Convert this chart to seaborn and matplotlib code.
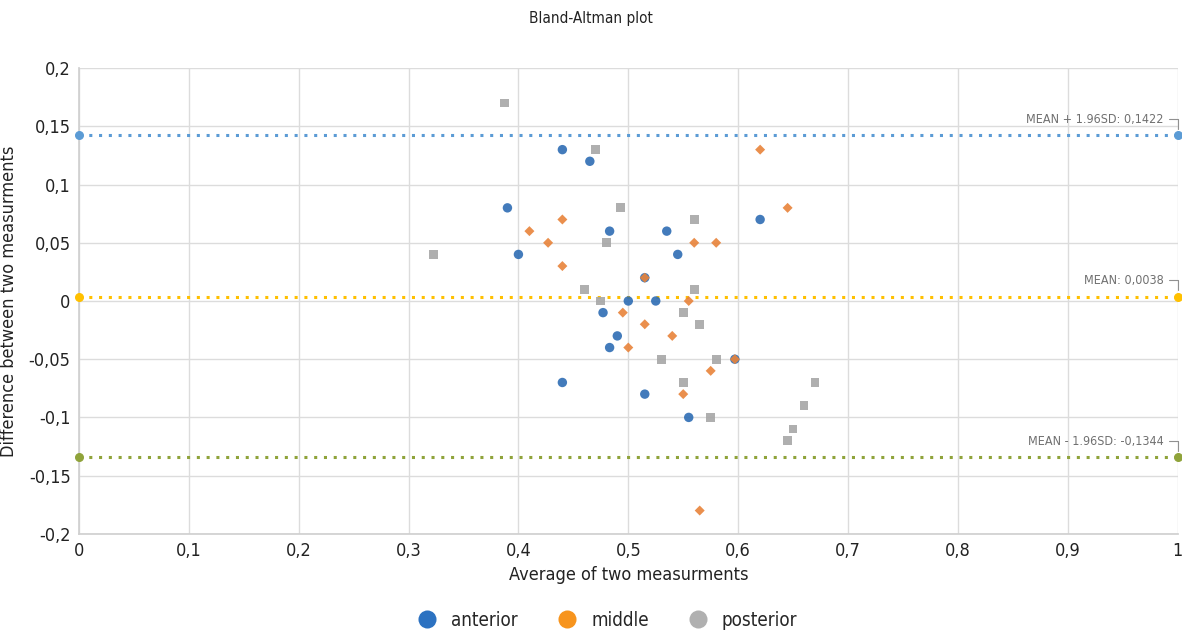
import matplotlib
matplotlib.use("Agg")
import matplotlib.pyplot as plt
from matplotlib.lines import Line2D
import seaborn as sns
import pandas as pd

# ---- data ----
anterior_x = [0.44, 0.465, 0.39, 0.40, 0.483, 0.535, 0.545, 0.62, 0.50, 0.525, 0.477, 0.49, 0.483, 0.44, 0.515, 0.555, 0.597, 0.515]
anterior_y = [0.13, 0.12, 0.08, 0.04, 0.06, 0.06, 0.04, 0.07, 0.0, 0.0, -0.01, -0.03, -0.04, -0.07, -0.08, -0.10, -0.05, 0.02]

middle_x = [0.62, 0.645, 0.41, 0.427, 0.44, 0.44, 0.56, 0.58, 0.555, 0.495, 0.515, 0.54, 0.50, 0.575, 0.55, 0.565, 0.515, 0.597]
middle_y = [0.13, 0.08, 0.06, 0.05, 0.07, 0.03, 0.05, 0.05, 0.0, -0.01, -0.02, -0.03, -0.04, -0.06, -0.08, -0.18, 0.02, -0.05]

posterior_x = [0.387, 0.47, 0.493, 0.56, 0.48, 0.323, 0.46, 0.56, 0.475, 0.55, 0.565, 0.53, 0.58, 0.55, 0.575, 0.67, 0.66, 0.65, 0.645]
posterior_y = [0.17, 0.13, 0.08, 0.07, 0.05, 0.04, 0.01, 0.01, 0.0, -0.01, -0.02, -0.05, -0.05, -0.07, -0.10, -0.07, -0.09, -0.11, -0.12]

mean_diff = 0.0038
upper_loa = 0.1422
lower_loa = -0.1344
x_ticks = [0, 0.1, 0.2, 0.3, 0.4, 0.5, 0.6, 0.7, 0.8, 0.9, 1.0]
y_ticks = [-0.2, -0.15, -0.1, -0.05, 0, 0.05, 0.1, 0.15, 0.2]
groups = ["anterior", "middle", "posterior"]

df = pd.concat([
    pd.DataFrame({"avg": anterior_x, "diff": anterior_y, "group": "anterior"}),
    pd.DataFrame({"avg": middle_x, "diff": middle_y, "group": "middle"}),
    pd.DataFrame({"avg": posterior_x, "diff": posterior_y, "group": "posterior"}),
], ignore_index=True)

sns.set_theme(style="white")
plt.rcParams['font.family'] = ['DejaVu Sans']
plt.rcParams['font.stretch'] = 'condensed'

fig = plt.figure(figsize=(11.82, 6.31), dpi=100)
ax = fig.add_axes([0.0668, 0.154, 0.9295, 0.738])

marker_colors = {"anterior": "#2E6DB4", "middle": "#E8833A", "posterior": "#A6A6A6"}
marker_shapes = {"anterior": "o", "middle": "D", "posterior": "s"}
marker_sizes = {"anterior": 46, "middle": 26, "posterior": 40}
for g in groups:
    sub = df[df["group"] == g]
    sns.scatterplot(data=sub, x="avg", y="diff", color=marker_colors[g],
                    marker=marker_shapes[g], s=marker_sizes[g], edgecolor="none",
                    alpha=0.9, ax=ax, legend=False, zorder=3)

# limit lines
lines = [(upper_loa, "#5B9BD5", "MEAN + 1.96SD: 0,1422"),
         (mean_diff, "#FFC000", "MEAN: 0,0038"),
         (lower_loa, "#8FA33A", "MEAN - 1.96SD: -0,1344")]
for val, col, lab in lines:
    sns.lineplot(x=[0, 1], y=[val, val], color=col, linestyle=(0, (1, 2.2)),
                 linewidth=2.2, ax=ax, legend=False, zorder=2)
    ax.scatter([0, 1], [val, val], color=col, s=30, zorder=4, clip_on=False)
    ax.annotate(lab, xy=(1.0, val + 0.003), xytext=(0.987, val + 0.014),
                fontsize=9, color="#707070", ha="right", va="center",
                arrowprops=dict(arrowstyle="-", color="#909090", lw=0.8,
                                connectionstyle="angle,angleA=0,angleB=90,rad=0"))

ax.set_xlim(0, 1)
ax.set_ylim(-0.2, 0.2)
ax.set_xticks(x_ticks)
ax.set_yticks(y_ticks)
ax.set_xticklabels([("%g" % t).replace(".", ",") for t in x_ticks], fontsize=13)
ax.set_yticklabels([("%g" % t).replace(".", ",") for t in y_ticks], fontsize=13)
ax.grid(True, color="#DCDCDC", linewidth=1)
ax.set_axisbelow(True)
for s in ax.spines.values():
    s.set_visible(False)
ax.spines["left"].set_visible(True)
ax.spines["left"].set_color("#D0D0D0")
ax.spines["bottom"].set_visible(True)
ax.spines["bottom"].set_color("#D0D0D0")
ax.tick_params(axis="both", length=0, pad=6, colors="#222222")

ax.set_xlabel("Average of two measurments", fontsize=13, color="#222222", labelpad=4)
ax.set_ylabel("Difference between two measurments", fontsize=13, color="#222222", labelpad=8)
fig.text(0.5, 0.971, "Bland-Altman plot", ha="center", va="center", fontsize=11, color="#222222")

legend_colors = ["#2C72C1", "#F7941D", "#B0B0B0"]
handles = [Line2D([0], [0], marker="o", linestyle="none", markersize=13,
                  markerfacecolor=c, markeredgecolor="none") for c in legend_colors]
fig.legend(handles, groups, loc="center", bbox_to_anchor=(0.51, 0.017), ncol=3,
           frameon=False, fontsize=13.5, handletextpad=0.3, columnspacing=1.6)

fig.savefig("out.png", dpi=100)
